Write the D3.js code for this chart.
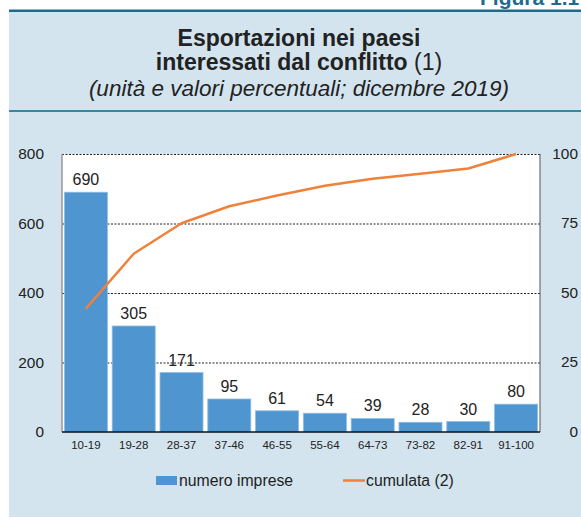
<!DOCTYPE html>
<html><head><meta charset="utf-8">
<script src="https://cdn.jsdelivr.net/npm/d3@7"></script>
<style>
body{margin:0;background:#fff;}
text{font-family:"Liberation Sans",Arial,Helvetica,sans-serif;}
</style></head>
<body><svg id="c" width="581" height="519"></svg>
<script>
const categories = ["10-19","19-28","28-37","37-46","46-55","55-64","64-73","73-82","82-91","91-100"];
const numeroImprese = [690,305,171,95,61,54,39,28,30,80];
const cumulata = [44.4,64.1,75.1,81.2,85.1,88.6,91.1,92.9,94.8,100];
const leftTicks = [0,200,400,600,800];
const rightTicks = [0,25,50,75,100];

const svg = d3.select("#c");
const W = 581, H = 519;
// panel background
svg.append("rect").attr("x",9).attr("y",10).attr("width",W-9).attr("height",507).attr("fill","#d3e4ee");
svg.append("line").attr("x1",9).attr("x2",W).attr("y1",10.8).attr("y2",10.8).attr("stroke","#1f6b8c").attr("stroke-width",2.6);
svg.append("line").attr("x1",9).attr("x2",W).attr("y1",111).attr("y2",111).attr("stroke","#3a84a6").attr("stroke-width",2);
svg.append("text").attr("x",480).attr("y",5).attr("font-size",21).attr("font-weight","bold").attr("fill","#1f6b8c").text("Figura 1.1");

// titles
const cx = 299;
svg.append("text").attr("x",cx).attr("y",46).attr("text-anchor","middle").attr("font-size",23).attr("font-weight","bold").attr("fill","#222").text("Esportazioni nei paesi");
const t2 = svg.append("text").attr("x",cx).attr("y",70).attr("text-anchor","middle").attr("font-size",23).attr("fill","#222");
t2.append("tspan").attr("font-weight","bold").text("interessati dal conflitto");
t2.append("tspan").text(" (1)");
svg.append("text").attr("x",cx).attr("y",96).attr("text-anchor","middle").attr("font-size",22.5).attr("font-style","italic").attr("fill","#222").text("(unità e valori percentuali; dicembre 2019)");

const x0=62, x1=540, yTop=154, yBot=432;
svg.append("rect").attr("x",x0).attr("y",yTop).attr("width",x1-x0).attr("height",yBot-yTop).attr("fill","#fff");

const x = d3.scaleBand().domain(categories).range([x0,x1]).paddingInner(0.1).paddingOuter(0.05);
const yL = d3.scaleLinear().domain([0,800]).range([yBot,yTop]);
const yR = d3.scaleLinear().domain([0,100]).range([yBot,yTop]);

// gridlines
svg.append("g").selectAll("line").data(leftTicks.filter(d=>d>0)).join("line")
  .attr("x1",x0).attr("x2",x1).attr("y1",d=>yL(d)+0.5).attr("y2",d=>yL(d)+0.5)
  .attr("stroke","#222").attr("stroke-width",1).attr("stroke-dasharray","2,1.5");

// bars
svg.append("g").selectAll("rect").data(numeroImprese).join("rect")
  .attr("x",(d,i)=>x(categories[i])).attr("width",x.bandwidth())
  .attr("y",d=>yL(d)).attr("height",d=>yBot-yL(d))
  .attr("fill","#4f95d0").attr("stroke","#8fbde3").attr("stroke-width",0.8);

// value labels
svg.append("g").selectAll("text").data(numeroImprese).join("text")
  .attr("x",(d,i)=>x(categories[i])+x.bandwidth()/2).attr("y",d=>yL(d)-7)
  .attr("text-anchor","middle").attr("font-size",16).attr("fill","#222").text(d=>d);

// line
const line = d3.line().x((d,i)=>x(categories[i])+x.bandwidth()/2).y(d=>yR(d));
svg.append("path").datum(cumulata).attr("d",line).attr("fill","none").attr("stroke","#f0813a").attr("stroke-width",2.5).attr("stroke-linejoin","round");

// axes lines
svg.append("line").attr("x1",x0).attr("x2",x0).attr("y1",yTop).attr("y2",yBot).attr("stroke","#999").attr("stroke-width",1.5);
svg.append("line").attr("x1",x1).attr("x2",x1).attr("y1",yTop).attr("y2",yBot).attr("stroke","#555").attr("stroke-width",1);
svg.append("line").attr("x1",x0).attr("x2",x1).attr("y1",yBot).attr("y2",yBot).attr("stroke","#111").attr("stroke-width",1.5);

// left axis labels
const gl = svg.append("g").attr("transform",`translate(${x0},0)`).call(d3.axisLeft(yL).tickValues(leftTicks).tickSize(0).tickPadding(18));
gl.select(".domain").remove();
gl.selectAll("text").attr("font-size",15.4).attr("fill","#222").style("font-family","Liberation Sans, Arial, sans-serif");
// right axis labels
svg.append("g").selectAll("text").data(rightTicks).join("text")
  .attr("x",578).attr("y",d=>yR(d)).attr("dy","0.32em").attr("text-anchor","end")
  .attr("font-size",15.4).attr("fill","#222").text(d=>d);
// x axis labels
const gx = svg.append("g").attr("transform",`translate(0,${yBot})`).call(d3.axisBottom(x).tickSize(0).tickPadding(9));
gx.select(".domain").remove();
gx.selectAll("text").attr("font-size",11.5).attr("fill","#222").style("font-family","Liberation Sans, Arial, sans-serif");

// legend
svg.append("rect").attr("x",156).attr("y",476).attr("width",21).attr("height",9).attr("fill","#4f95d0");
svg.append("text").attr("x",179).attr("y",486).attr("font-size",15.8).attr("fill","#222").text("numero imprese");
svg.append("line").attr("x1",343).attr("x2",365).attr("y1",480.5).attr("y2",480.5).attr("stroke","#f0813a").attr("stroke-width",2.5);
svg.append("text").attr("x",366).attr("y",486).attr("font-size",15.8).attr("fill","#222").text("cumulata (2)");
</script></body></html>
